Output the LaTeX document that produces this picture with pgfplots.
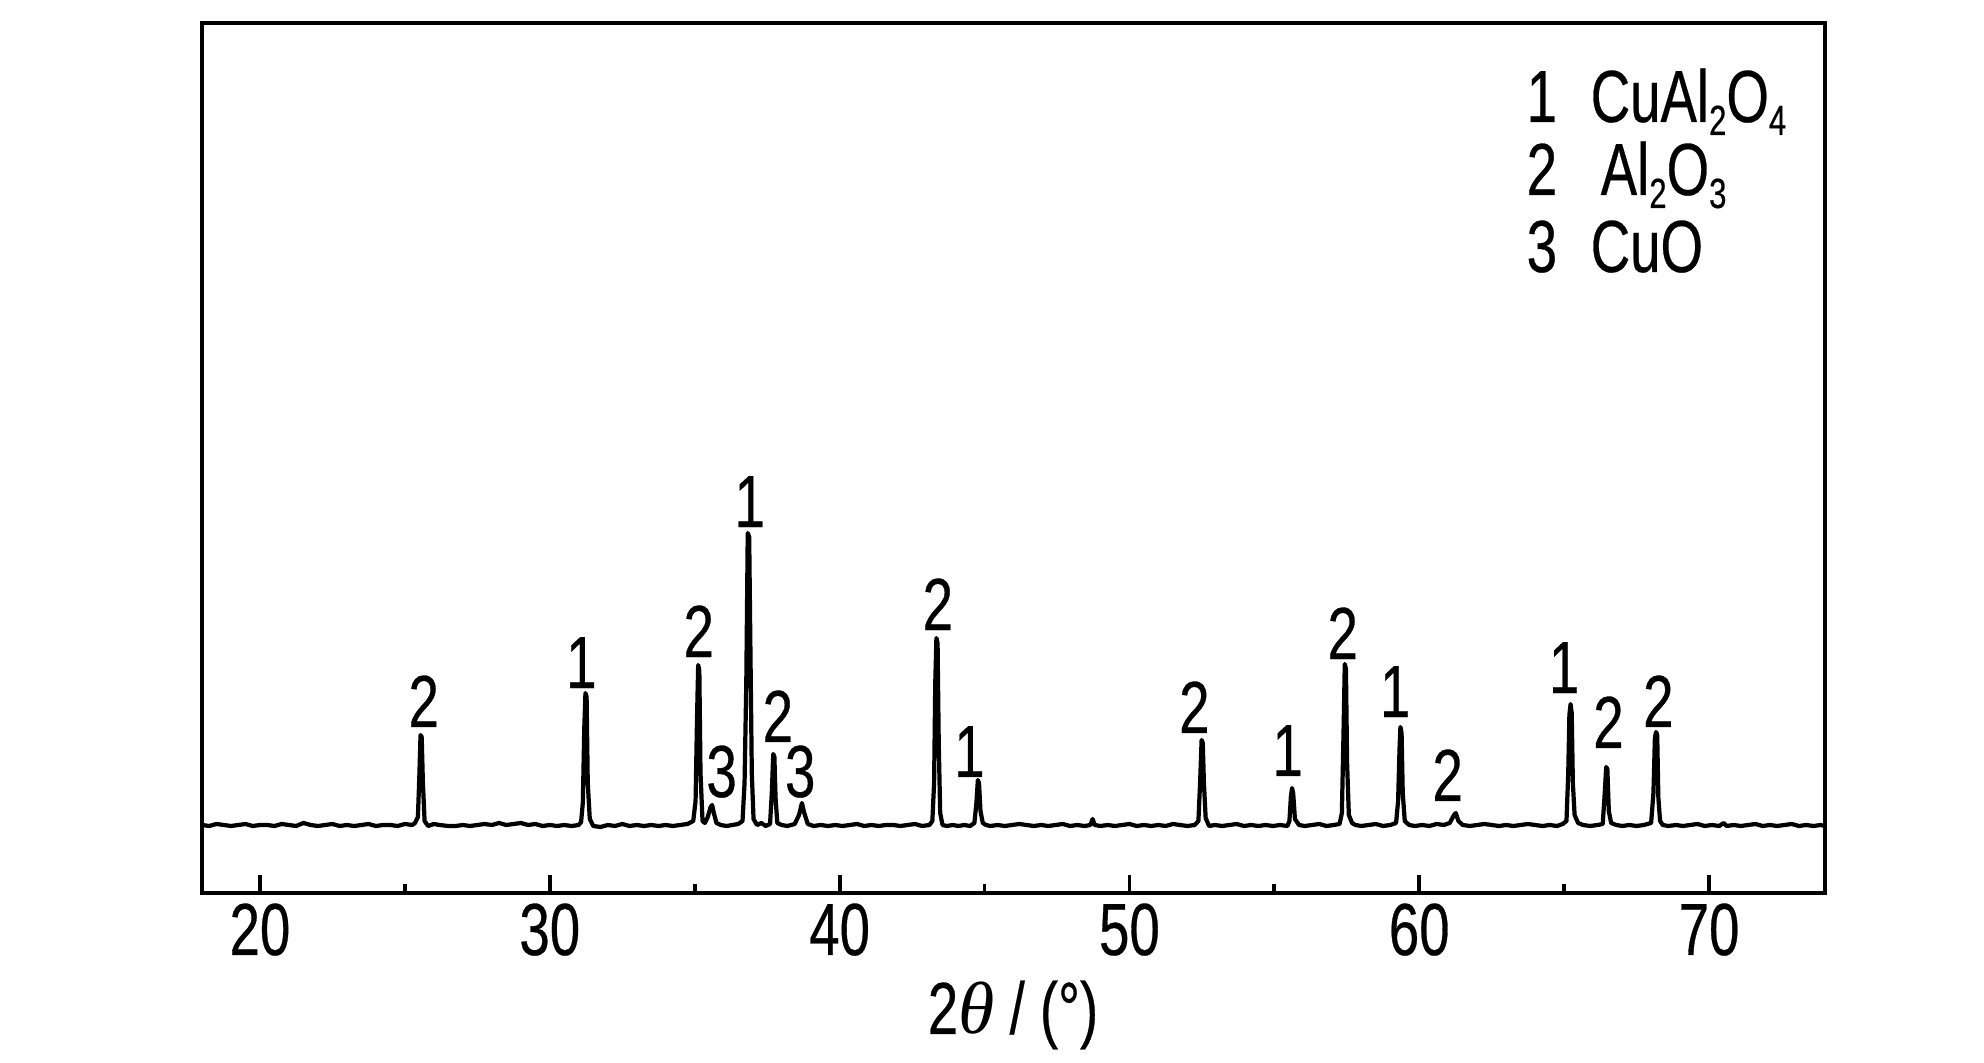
\documentclass[border=0pt]{standalone}
\usepackage{pgfplots}
\pgfplotsset{compat=1.18}
\usepackage{fontspec}
\setmainfont{Liberation Sans}[FakeStretch=0.74, FakeBold=0.4]
\newfontfamily\serifth{Liberation Serif}
\newcommand\sub[1]{\raisebox{-1.3mm}{\fontsize{12}{12}\selectfont #1}}
\begin{document}
\fontsize{21}{25}\selectfont
\begin{tikzpicture}
\path[use as bounding box] (0,0) rectangle (198.4mm,106.3mm);
\begin{axis}[
  at={(20.2mm,17.0mm)}, anchor=south west,
  width=162.3mm, height=87mm, scale only axis,
  xmin=18, xmax=74, ymin=0, ymax=870,
  axis line style={line width=1.1pt},
  xtick={20,30,...,70}, minor x tick num=1,
  xtick pos=bottom, ytick=\empty,
  major tick length=1.8mm, minor tick length=0.9mm,
  every tick/.style={line width=1.1pt, black},
  tick align=inside,
  /pgf/number format/assume math mode=true,
  xticklabel style={inner sep=0pt, anchor=base, yshift=-6.2mm, font=\fontsize{21}{25}\selectfont},
  clip=false,
]
\addplot[black, line width=1.2pt, line join=round] table {
18.00 68
18.25 67
18.50 69
18.75 68
19.00 67
19.25 68
19.50 69
19.75 67
20.00 68
20.25 68
20.50 67
20.75 69
21.00 68
21.25 67
21.50 70
21.75 68
22.00 67
22.25 68
22.50 69
22.75 67
23.00 68
23.25 67
23.50 68
23.75 69
24.00 67
24.25 68
24.50 68
24.75 67
25.00 69
25.25 68
25.35 70
25.45 76
25.50 118
25.54 158
25.58 156
25.62 112
25.68 72
25.80 67
26.00 69
26.20 68
26.50 67
26.75 67
27.00 68
27.25 67
27.50 68
27.75 69
28.00 68
28.25 70
28.50 68
28.75 69
29.00 70
29.25 68
29.50 69
29.75 67
30.00 68
30.25 67
30.50 68
30.75 67
31.00 68
31.08 71
31.14 90
31.19 165
31.23 200
31.27 196
31.31 110
31.38 74
31.50 67
31.75 66
32.00 68
32.25 67
32.50 69
32.75 67
33.00 68
33.25 67
33.50 68
33.75 67
34.00 68
34.25 67
34.50 68
34.75 69
34.95 72
35.03 92
35.08 175
35.12 228
35.16 222
35.20 120
35.27 72
35.35 70
35.45 76
35.55 86
35.60 88
35.66 80
35.75 70
35.90 68
36.10 67
36.30 68
36.50 69
36.65 72
36.72 110
36.78 210
36.83 360
36.88 356
36.92 250
36.97 120
37.03 74
37.15 68
37.30 70
37.45 67
37.60 69
37.66 100
37.71 139
37.75 136
37.79 95
37.85 70
38.00 68
38.20 67
38.45 69
38.60 78
38.70 90
38.78 80
38.90 69
39.10 67
39.35 68
39.60 67
39.85 68
40.10 67
40.35 68
40.60 69
40.85 67
41.10 68
41.35 67
41.60 68
41.85 68
42.10 67
42.35 68
42.60 69
42.85 67
43.10 68
43.20 72
43.26 110
43.30 210
43.34 255
43.38 250
43.42 150
43.47 80
43.55 68
43.70 67
43.90 68
44.10 67
44.30 68
44.50 67
44.65 70
44.72 90
44.77 113
44.81 110
44.86 82
44.94 70
45.05 68
45.20 67
45.45 68
45.70 67
45.95 68
46.20 69
46.45 68
46.70 67
46.95 68
47.20 67
47.45 68
47.70 69
47.95 67
48.20 68
48.45 67
48.65 68
48.73 74
48.80 68
49.00 67
49.25 68
49.50 67
49.75 68
50.00 69
50.25 67
50.50 68
50.75 67
51.00 68
51.25 67
51.50 69
51.75 68
52.00 67
52.25 68
52.38 72
52.44 112
52.49 153
52.53 150
52.57 110
52.63 75
52.75 67
52.95 68
53.20 67
53.45 68
53.70 69
53.95 67
54.20 68
54.45 67
54.70 68
54.95 67
55.20 68
55.45 67
55.52 72
55.57 96
55.61 105
55.65 100
55.71 74
55.85 68
56.05 67
56.30 68
56.55 69
56.80 67
57.05 68
57.25 69
57.33 80
57.39 165
57.43 229
57.47 224
57.51 130
57.57 78
57.68 70
57.80 68
58.00 67
58.25 68
58.50 69
58.75 67
59.00 68
59.20 70
59.27 92
59.32 145
59.35 166
59.39 160
59.43 100
59.50 72
59.65 68
59.85 67
60.10 68
60.35 67
60.60 69
60.85 68
61.05 70
61.20 78
61.26 80
61.35 72
61.50 68
61.75 67
62.00 68
62.25 69
62.50 68
62.75 67
63.00 68
63.25 67
63.50 68
63.75 69
64.00 68
64.25 67
64.50 68
64.75 67
64.95 69
65.08 72
65.14 120
65.18 178
65.22 189
65.26 180
65.30 110
65.36 78
65.48 70
65.65 68
65.90 67
66.15 68
66.33 69
66.40 100
66.45 126
66.49 124
66.54 82
66.62 70
66.80 68
67.00 67
67.25 68
67.50 67
67.75 68
68.00 70
68.08 100
68.13 155
68.17 161
68.21 158
68.25 95
68.31 72
68.40 68
68.60 67
68.85 68
69.10 67
69.35 68
69.60 69
69.85 67
70.10 68
70.35 67
70.50 70
70.60 67
70.85 68
71.10 67
71.35 68
71.60 69
71.85 67
72.10 68
72.35 67
72.60 68
72.85 69
73.10 67
73.35 68
73.60 67
73.85 68
74.00 67
};
\begin{scope}[every node/.style={anchor=base, inner sep=0pt, font=\fontsize{21}{25}\selectfont}]
\node at (axis cs:25.65,166) {2};
\node at (axis cs:31.09,205) {1};
\node at (axis cs:35.14,236) {2};
\node at (axis cs:35.93,96) {3};
\node at (axis cs:36.90,366) {1};
\node at (axis cs:37.87,151) {2};
\node at (axis cs:38.64,96) {3};
\node at (axis cs:43.39,263) {2};
\node at (axis cs:44.48,116) {1};
\node at (axis cs:52.24,160) {2};
\node at (axis cs:55.46,117) {1};
\node at (axis cs:57.36,234) {2};
\node at (axis cs:59.17,176) {1};
\node at (axis cs:60.98,92) {2};
\node at (axis cs:65.00,200) {1};
\node at (axis cs:66.53,145) {2};
\node at (axis cs:68.25,166) {2};
\end{scope}
\end{axis}
\begin{scope}[every node/.style={anchor=base west, inner sep=0pt}]
\node at (152.6mm,94.1mm) {1};
\node at (159.0mm,94.1mm) {CuAl\sub{2}O\sub{4}};
\node at (152.6mm,86.8mm) {2};
\node at (160.0mm,86.8mm) {Al\sub{2}O\sub{3}};
\node at (152.6mm,79.1mm) {3};
\node at (159.0mm,79.1mm) {CuO};
\end{scope}
\node[anchor=base, inner sep=0pt] at (101.3mm,2.9mm) {2{\serifth\itshape θ} / (°)};
\end{tikzpicture}
\end{document}
